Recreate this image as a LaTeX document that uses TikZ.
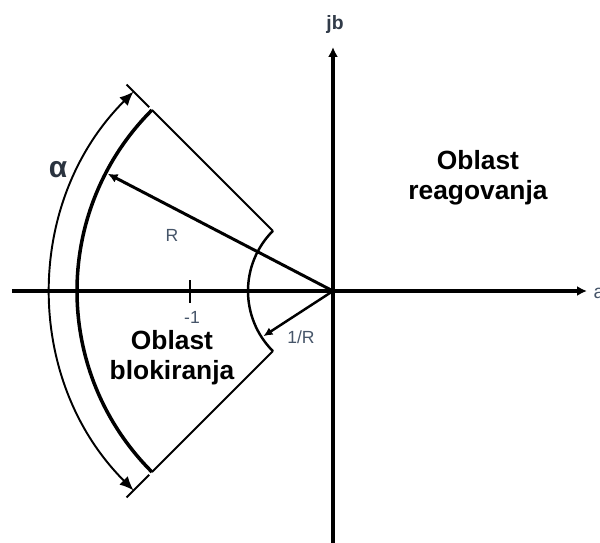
\documentclass[tikz,border=0pt]{standalone}
\usepackage{fontspec}
\setmainfont{Liberation Sans}
\usetikzlibrary{positioning,arrows.meta}
\definecolor{labelgray}{RGB}{70,85,105}

\begin{document}
\begin{tikzpicture}[
  axis/.style={line width=1.05pt,-{Latex[length=2.8pt,width=2.8pt]}},
  edge/.style={line width=0.55pt},
  region/.style={font=\fontsize{7.5}{8.6}\selectfont\bfseries,align=center},
  small/.style={font=\fontsize{5}{5.5}\selectfont,text=labelgray,inner sep=0pt}
]
\useasboundingbox (-3.33,-2.51) rectangle (2.67,2.91);

\coordinate (o) at (0,0);
\coordinate (xl) at (-3.21,0);
\coordinate (xr) at (2.54,0);
\coordinate (yb) at (0,-2.6);
\coordinate (yt) at (0,2.44);

\draw[axis] (xl) -- (xr);
\draw[axis] (yb) -- (yt);
\node[font=\fontsize{5.5}{6}\selectfont\bfseries,text=labelgray!70!black] (jb) at (0.02,2.67) {jb};
\node[font=\fontsize{5.5}{6}\selectfont,text=labelgray,anchor=west,inner sep=0pt] (a) at (2.6,-0.02) {a};

% tick at -1
\coordinate (t1) at (-1.43,0.11);
\coordinate (t2) at (-1.43,-0.12);
\draw[line width=0.55pt] (t1) -- (t2);
\node[small] (m1) at (-1.41,-0.26) {-1};

% sector
\coordinate (A) at (135:2.56);
\coordinate (B) at (225:2.56);
\coordinate (C) at (135:0.85);
\coordinate (D) at (225:0.85);

\draw[edge] (C) -- (A);
\draw[edge] (D) -- (B);
\draw[line width=1pt] (A) arc[start angle=135,end angle=225,radius=2.56];
\draw[line width=0.7pt] (C) arc[start angle=135,end angle=225,radius=0.85];

% R and 1/R
\coordinate (Rend) at (152.5:2.54);
\coordinate (rend) at (213:0.83);
\draw[line width=0.85pt,-{Latex[length=2.8pt,width=2.6pt]}] (o) -- (Rend);
\draw[line width=0.7pt,-{Latex[length=2.6pt,width=2.4pt]}] (o) -- (rend);
\node[small] (R) at (-1.61,0.56) {R};
\node[small] (invR) at (-0.32,-0.46) {1/R};

% angle alpha
\coordinate (E1) at (135:2.6);
\coordinate (E2) at (135:2.92);
\coordinate (F1) at (225:2.6);
\coordinate (F2) at (225:2.92);
\draw[edge] (E1) -- (E2);
\draw[edge] (F1) -- (F2);
\draw[edge,{Latex[length=4pt,width=3.4pt]}-{Latex[length=4pt,width=3.4pt]}] (135:2.82) arc[start angle=135,end angle=225,radius=2.82];
\node[font=\fontsize{8.5}{9}\selectfont\bfseries,text=labelgray!60!black] (alpha) at (-2.75,1.21) {α};

\node[region] (block) at (-1.61,-0.67) {Oblast\\blokiranja};
\node[region] (react) at (1.45,1.13) {Oblast\\reagovanja};

\end{tikzpicture}
\end{document}
